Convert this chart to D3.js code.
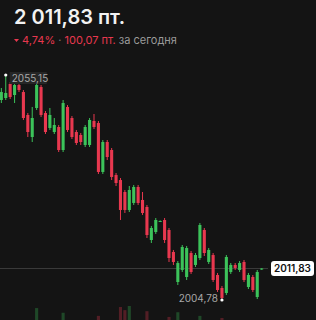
<!DOCTYPE html>
<html>
<head>
<meta charset="utf-8">
<script src="https://cdn.jsdelivr.net/npm/d3@7"></script>
<style>
  html, body { margin: 0; padding: 0; background: #141414; }
  svg { display: block; }
</style>
</head>
<body>
<div id="chart"></div>
<script>
// OHLC per candle
const opens  = [2049.55, 2050.00, 2053.14, 2050.67, 2052.91, 2051.34, 2046.20, 2041.27, 2047.76, 2052.46,
                2046.64, 2043.29, 2042.39, 2043.51, 2038.36, 2047.99, 2045.52, 2042.39, 2041.72, 2039.48,
                2039.48, 2044.85, 2044.40, 2033.44, 2040.15, 2038.36, 2032.76, 2031.64, 2028.96, 2024.93,
                2026.50, 2030.08, 2027.17, 2025.60, 2018.21, 2020.00, 2022.40, 2022.69, 2020.45, 2015.53,
                2008.81, 2011.50, 2009.93, 2015.30, 2012.62, 2014.18, 2020.45, 2013.29, 2014.85, 2010.38,
                2007.47, 2006.35, 2011.05, 2012.62, 2011.50, 2013.29, 2007.69, 2009.93, 2005.45, 2011.60];
const highs  = [2052.24, 2055.15, 2053.58, 2053.36, 2053.36, 2051.79, 2046.64, 2047.99, 2053.36, 2052.91,
                2047.09, 2047.76, 2045.52, 2043.96, 2049.55, 2048.43, 2045.97, 2042.84, 2042.17, 2043.96,
                2045.52, 2046.42, 2044.85, 2040.60, 2040.60, 2038.81, 2033.21, 2032.09, 2029.41, 2030.30,
                2030.53, 2030.53, 2028.96, 2026.05, 2021.35, 2023.14, 2022.60, 2023.14, 2020.90, 2015.98,
                2013.51, 2017.09, 2016.87, 2015.75, 2015.30, 2022.02, 2020.90, 2016.42, 2015.30, 2010.83,
                2007.92, 2014.85, 2013.06, 2013.06, 2013.51, 2013.74, 2010.83, 2010.38, 2011.50, 2011.90];
const lows   = [2048.88, 2049.55, 2049.78, 2048.88, 2051.34, 2045.08, 2041.27, 2040.15, 2047.32, 2045.75,
                2041.94, 2042.84, 2041.94, 2037.91, 2037.91, 2042.39, 2040.82, 2039.48, 2039.48, 2039.03,
                2039.03, 2043.06, 2032.99, 2032.99, 2036.12, 2031.64, 2030.30, 2022.69, 2024.26, 2024.48,
                2026.05, 2026.05, 2023.81, 2018.66, 2017.54, 2019.56, 2022.25, 2017.54, 2013.29, 2012.62,
                2008.14, 2011.05, 2009.26, 2010.61, 2012.17, 2013.74, 2014.63, 2012.84, 2008.81, 2006.57,
                2004.78, 2005.90, 2010.61, 2011.50, 2011.05, 2008.81, 2007.24, 2006.57, 2005.00, 2011.55];
const closes = [2051.34, 2051.12, 2050.22, 2052.91, 2051.79, 2045.52, 2042.39, 2045.52, 2052.91, 2046.20,
                2042.39, 2046.20, 2043.96, 2038.36, 2048.88, 2042.84, 2041.27, 2039.93, 2040.15, 2043.51,
                2045.08, 2043.51, 2033.44, 2040.15, 2036.79, 2032.32, 2030.97, 2024.93, 2024.93, 2029.41,
                2030.08, 2026.50, 2024.26, 2019.33, 2020.90, 2022.69, 2022.47, 2018.21, 2014.18, 2013.29,
                2013.06, 2016.65, 2016.42, 2011.05, 2014.85, 2021.57, 2015.30, 2015.98, 2009.26, 2007.02,
                2005.23, 2014.41, 2012.62, 2011.95, 2013.06, 2009.26, 2010.38, 2007.02, 2011.05, 2011.83];
const volumes = [12, 10, 14, 9, 11, 15, 13, 18, 46, 16,
                 12, 10, 9, 17, 37, 14, 12, 10, 9, 15,
                 18, 11, 31, 20, 14, 16, 12, 48, 42, 50,
                 18, 15, 19, 40, 17, 14, 8, 16, 29, 13,
                 38, 19, 21, 14, 10, 31, 16, 12, 18, 15,
                 27, 20, 9, 8, 10, 14, 11, 12, 18, 6];

const lastPrice = 2011.83, maxPrice = 2055.15, minPrice = 2004.78;
const headerValue = "2 011,83 пт.";
const changePct = "4,74%", changePts = "100,07 пт.", changeNote = "за сегодня";

const W = 316, H = 320;
const green = "#3cc35a", red = "#e8384f";

const candles = opens.map((o, i) => ({
  i: i, open: o, high: highs[i], low: lows[i], close: closes[i], vol: volumes[i]
}));

const svg = d3.select("#chart").append("svg")
  .attr("width", W).attr("height", H)
  .style("font-family", "Inter, 'Noto Sans', sans-serif");

svg.append("rect").attr("width", W).attr("height", H).attr("fill", "#141414");

const x = d3.scaleBand()
  .domain(candles.map(d => d.i))
  .range([-0.2, 263.2])
  .paddingInner(0.3);

const y = d3.scaleLinear()
  .domain([minPrice, maxPrice])
  .range([300, 75]);

const yVol = d3.scaleLinear()
  .domain([0, 100])
  .range([332, 280]);

const cx = d => x(d.i) + x.bandwidth() / 2;
const col = d => d.close >= d.open ? green : red;

// header
svg.append("text")
  .attr("x", 14).attr("y", 24)
  .attr("fill", "#f2f2f2")
  .attr("font-size", 20).attr("font-weight", 600)
  .text(headerValue);

const sub = svg.append("g").attr("transform", "translate(14,44)");
sub.append("path")
  .attr("d", "M0,-5 L5,-5 L2.5,-2 Z")
  .attr("fill", red);
const subText = sub.append("text")
  .attr("x", 8).attr("font-size", 11);
subText.append("tspan").attr("fill", red).text(changePct);
subText.append("tspan").attr("fill", "#777").text(" · ");
subText.append("tspan").attr("fill", red).text(changePts);
subText.append("tspan").attr("fill", "#9a9a9a").text(" " + changeNote);

// volume bars
svg.append("g").selectAll("rect")
  .data(candles)
  .join("rect")
  .attr("x", d => x(d.i))
  .attr("width", x.bandwidth())
  .attr("y", d => yVol(d.vol))
  .attr("height", d => Math.max(0, yVol(0) - yVol(d.vol)))
  .attr("fill", col)
  .attr("opacity", 0.3);

// current price line
svg.append("line")
  .attr("x1", 0).attr("x2", 268)
  .attr("y1", y(lastPrice)).attr("y2", y(lastPrice))
  .attr("stroke", "#3a3a3a").attr("stroke-width", 1);

// candles
const g = svg.append("g");
g.selectAll("line.wick")
  .data(candles)
  .join("line")
  .attr("class", "wick")
  .attr("x1", cx).attr("x2", cx)
  .attr("y1", d => y(d.high)).attr("y2", d => y(d.low))
  .attr("stroke", col).attr("stroke-width", 1);

g.selectAll("rect.body")
  .data(candles)
  .join("rect")
  .attr("class", "body")
  .attr("x", d => x(d.i))
  .attr("width", x.bandwidth())
  .attr("y", d => y(Math.max(d.open, d.close)))
  .attr("height", d => Math.max(1, Math.abs(y(d.open) - y(d.close))))
  .attr("fill", col);

// max / min markers
const hiC = candles.find(d => d.high === maxPrice);
const loC = candles.find(d => d.low === minPrice);

svg.append("circle").attr("cx", cx(hiC)).attr("cy", y(maxPrice)).attr("r", 1.6).attr("fill", "#fff");
svg.append("circle").attr("cx", cx(loC)).attr("cy", y(minPrice)).attr("r", 1.6).attr("fill", "#fff");

const fmt = v => v.toFixed(2).replace(".", ",");

svg.append("rect")
  .attr("x", cx(hiC) + 4).attr("y", y(maxPrice) - 3)
  .attr("width", 37).attr("height", 12)
  .attr("fill", "#262626");
svg.append("text")
  .attr("x", cx(hiC) + 6).attr("y", y(maxPrice) + 6.5)
  .attr("fill", "#a8a8a8").attr("font-size", 10)
  .text(fmt(maxPrice));

svg.append("text")
  .attr("x", cx(loC) - 4).attr("y", y(minPrice) + 1.5)
  .attr("text-anchor", "end")
  .attr("fill", "#a8a8a8").attr("font-size", 10)
  .text(fmt(minPrice));

// current price tag
const tag = svg.append("g").attr("transform", `translate(271,${y(lastPrice)})`);
tag.append("rect")
  .attr("x", 0).attr("y", -7.5)
  .attr("width", 43).attr("height", 15).attr("rx", 3)
  .attr("fill", "#fff");
tag.append("text")
  .attr("x", 21.5).attr("y", 3.8)
  .attr("text-anchor", "middle")
  .attr("fill", "#111").attr("font-size", 10).attr("font-weight", 600)
  .text(fmt(lastPrice));
</script>
</body>
</html>
